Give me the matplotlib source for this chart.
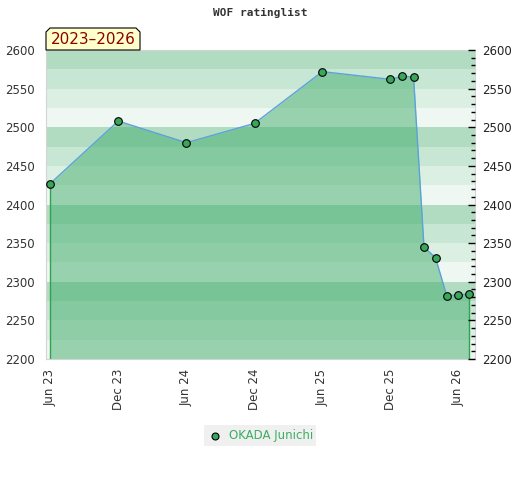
import numpy as np
import matplotlib
matplotlib.use("Agg")
import matplotlib.pyplot as plt
import matplotlib.dates as mdates
from matplotlib.patches import Polygon, Rectangle
from datetime import datetime

# data
dates = ["2023-06-01", "2023-12-01", "2024-06-01", "2024-12-01", "2025-06-01",
         "2025-12-01", "2026-01-01", "2026-02-01", "2026-03-01", "2026-04-01",
         "2026-05-01", "2026-06-01", "2026-07-01"]
ratings = [2427, 2508, 2480, 2505, 2572, 2562, 2566, 2565, 2345, 2331, 2282, 2283, 2284]
player = "OKADA Junichi"
period = "2023\u20132026"
tick_dates = ["2023-06-01", "2023-12-01", "2024-06-01", "2024-12-01",
              "2025-06-01", "2025-12-01", "2026-06-01"]

x = [datetime.strptime(d, "%Y-%m-%d") for d in dates]
xt = [datetime.strptime(d, "%Y-%m-%d") for d in tick_dates]
ymin, ymax = 2200, 2600

band_cols = ["#b2dcc2", "#c8e6d4", "#dcefe3", "#eef7f1"]
fill_col = "#42ad6b"
line_col = "#5aa2da"
dot_col = "#3aa65a"

fig = plt.figure(figsize=(5.2, 4.8), dpi=100)
ax = fig.add_axes([46/520, 1-359/480, (475-46)/520, (359-50)/480])

# horizontal background bands, 25 points each
for i, lo in enumerate(range(ymax - 25, ymin - 1, -25)):
    ax.axhspan(lo, lo + 25, color=band_cols[i % 4], lw=0, zorder=0)

ax.fill_between(x, ratings, ymin, color=fill_col, alpha=0.5, lw=0, zorder=1)
ax.vlines([x[0], x[-1]], ymin, [ratings[0], ratings[-1]], color="#2ea44f", lw=1, zorder=2)
ax.plot(x, ratings, color=line_col, lw=1.0, zorder=3)
ax.plot(x, ratings, "o", ms=5.5, mfc=dot_col, mec="black", mew=0.8, zorder=4,
        label=player)

ax.set_xlim(datetime(2023, 5, 21), datetime(2026, 7, 16))
ax.set_ylim(ymin, ymax)
ax.set_xticks(xt)
ax.xaxis.set_major_formatter(mdates.DateFormatter("%b %y"))
ax.tick_params(axis="x", length=0, labelsize=8.5, labelcolor="#333333",
               rotation=90, pad=7)
ax.set_yticks(np.arange(ymin, ymax + 1, 50))
ax.tick_params(axis="y", length=0, labelsize=8.5, labelcolor="#333333", pad=8)
for s in ax.spines.values():
    s.set_color("#d4d4d4")

ax2 = ax.twinx()
ax2.set_ylim(ymin, ymax)
ax2.set_yticks(np.arange(ymin, ymax + 1, 50))
ax2.set_yticks(np.arange(ymin, ymax + 1, 10), minor=True)
ax2.tick_params(axis="y", which="major", direction="in", length=5, width=1,
                labelsize=8.5, labelcolor="#222222", pad=5)
ax2.tick_params(axis="y", which="minor", direction="in", length=3, width=1)
for s in ax2.spines.values():
    s.set_visible(False)

fig.text(0.5, 1 - 13/480, "WOF ratinglist", ha="center", va="center",
         family="DejaVu Sans Mono", weight="bold", fontsize=8, color="#333333")

# period label box with chamfered top corners
W, H = 520.0, 480.0
pts = [(46, 50), (46, 32), (50, 28), (136, 28), (140, 32), (140, 50)]
fig.patches.append(Polygon([(px / W, 1 - py / H) for px, py in pts], closed=True,
                           transform=fig.transFigure, fc="#ffffcc", ec="black",
                           lw=0.8, zorder=5))
fig.text(93/W, 1 - 40/H, period, ha="center", va="center", fontsize=11,
         color="#8b0000", zorder=6)

# legend
fig.patches.append(Rectangle((204/W, 1 - 446/H), 112/W, 21/H, transform=fig.transFigure,
                             fc="#f0f0f0", ec="none"))
fig.lines.append(plt.Line2D([215/W], [1 - 436/H], transform=fig.transFigure, marker="o",
                            ms=5, mfc=dot_col, mec="black", mew=0.8, ls="none"))
fig.text(229/W, 1 - 436/H, player, ha="left", va="center", fontsize=8.5, color="#3cae60")

fig.savefig("out.png", dpi=100)
